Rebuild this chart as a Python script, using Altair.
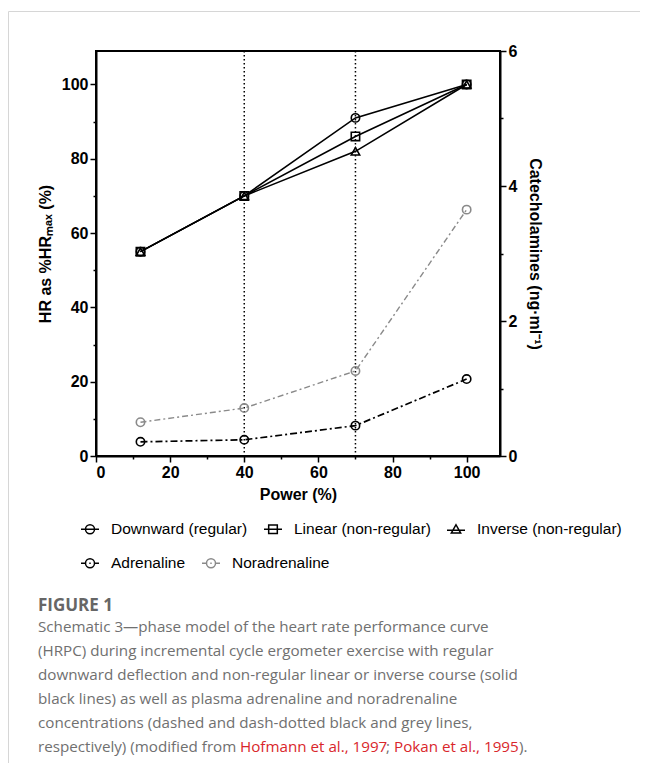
import altair as alt
import pandas as pd

# ---------------- data ----------------
power = [12, 40, 70, 100]
hr_downward = [55, 70, 91, 100]
hr_linear = [55, 70, 86, 100]
hr_inverse = [55, 70, 82, 100]
adrenaline = [0.21, 0.24, 0.45, 1.14]
noradrenaline = [0.50, 0.71, 1.26, 3.65]
phase_thresholds = [40, 70]

x_ticks = list(range(0, 101, 10))
hr_ticks = list(range(0, 101, 10))
cat_ticks = [0, 1, 2, 3, 4, 5, 6]

hr_names = ["Downward (regular)", "Linear (non-regular)", "Inverse (non-regular)"]
cat_names = ["Adrenaline", "Noradrenaline"]

caption_title = "FIGURE 1"
caption_lines = [
    "Schematic 3\u2014phase model of the heart rate performance curve",
    "(HRPC) during incremental cycle ergometer exercise with regular",
    "downward deflection and non-regular linear or inverse course (solid",
    "black lines) as well as plasma adrenaline and noradrenaline",
    "concentrations (dashed and dash-dotted black and grey lines,",
]
last_line_parts = ["respectively) (modified from ", "Hofmann et al., 1997", ";",
                   "Pokan et al., 1995", ")."]

# ---------------- styling ----------------
FONT = "Liberation Sans"
CAP_FONT = "Open Sans"
CAP_SIZE = 15.2
GREY_TXT = "#707070"
RED_TXT = "#d9262b"
W, H = 404, 405


def minor_size(step):
    return {"condition": {"test": f"datum.value % {step} != 0", "value": 3}, "value": 6}


common_axis = dict(grid=False, labelFont=FONT, labelFontSize=16, labelFontWeight="bold",
                   labelPadding=2, titleFont=FONT, titleFontSize=16, titleFontWeight="bold",
                   domainColor="black", domainWidth=2, tickColor="black", tickWidth=1.5,
                   labelColor="black", titleColor="black")

x_axis = alt.Axis(values=x_ticks, labelExpr="datum.value % 20 == 0 ? datum.label : ''",
                  tickSize=minor_size(20), title="Power (%)", titlePadding=6, **common_axis)
x_enc = alt.X("power:Q", scale=alt.Scale(domain=[0, 109], nice=False, zero=False), axis=x_axis)

left_axis = alt.Axis(values=hr_ticks, labelExpr="datum.value % 20 == 0 ? datum.label : ''",
                     tickSize=minor_size(20), title="HR as %HR\u2098\u2090\u2093 (%)",
                     titlePadding=8, **common_axis)
y_left = alt.Y("hr:Q", scale=alt.Scale(domain=[0, 109], nice=False), axis=left_axis)

right_axis = alt.Axis(orient="right", values=cat_ticks,
                      labelExpr="datum.value % 2 == 0 ? datum.label : ''",
                      tickSize=minor_size(2), title="Catecholamines (ng\u00b7ml\u207b\u00b9)",
                      titlePadding=10, **common_axis)
y_right = alt.Y("conc:Q", scale=alt.Scale(domain=[0, 6], nice=False), axis=right_axis)

# ---------------- left (HR) group ----------------
phase_rules = alt.Chart(pd.DataFrame({"power": phase_thresholds})).mark_rule(
    color="black", strokeWidth=1.5, strokeDash=[1.5, 2.5]).encode(x=x_enc)

hr_layers = []
for vals, shp in [(hr_inverse, "triangle-up"), (hr_downward, "circle"), (hr_linear, "square")]:
    df = pd.DataFrame({"power": power, "hr": vals})
    hr_layers.append(
        alt.Chart(df).mark_line(
            color="black", strokeWidth=1.6,
            point=alt.OverlayMarkDef(shape=shp, filled=False, size=70, color="black", strokeWidth=1.6),
        ).encode(x=x_enc, y=y_left)
    )

hr_paths = [
    "M-1,0H1M-0.5,0A0.5,0.5,0,1,1,0.5,0A0.5,0.5,0,1,1,-0.5,0",
    "M-1,0H1M-0.48,-0.48H0.48V0.48H-0.48Z",
    "M-1,0.1H1M0,-0.5L0.52,0.42H-0.52Z",
]
cat_path = "M-1,0H-0.5M0.5,0H1M-0.5,0A0.5,0.5,0,1,1,0.5,0A0.5,0.5,0,1,1,-0.5,0M-0.08,0H0.08"
cat_colors = ["black", "#8a8a8a"]

legend_common = dict(title=None, orient="none", direction="horizontal", padding=0,
                     columnPadding=13, symbolSize=324, symbolStrokeWidth=1.5, symbolOpacity=1,
                     symbolFillColor="transparent", labelFont=FONT, labelFontSize=15.5,
                     labelColor="black", labelOffset=11, labelLimit=400)

hr_legend_layer = alt.Chart(pd.DataFrame({"name": hr_names})).mark_point(
    filled=False, opacity=0).encode(
    x=alt.value(0), y=alt.value(0),
    shape=alt.Shape("name:N", scale=alt.Scale(domain=hr_names, range=hr_paths),
                    legend=alt.Legend(legendX=-16, legendY=468, symbolStrokeColor="black",
                                      **legend_common)),
)
cat_legend_layer = alt.Chart(pd.DataFrame({"name": cat_names})).mark_point(
    filled=False, opacity=0).encode(
    x=alt.value(0), y=alt.value(0),
    color=alt.Color("name:N", scale=alt.Scale(domain=cat_names, range=cat_colors),
                    legend=alt.Legend(legendX=-16, legendY=502, symbolType=cat_path,
                                      **legend_common)),
)

# caption
cap_title = alt.Chart(pd.DataFrame({"a": [0]})).mark_text(
    text=caption_title, font=CAP_FONT, fontSize=17, fontWeight="bold", color="#666666",
    align="left", baseline="alphabetic").encode(x=alt.value(-58), y=alt.value(560))
cap_body = alt.Chart(pd.DataFrame({"a": [0]})).mark_text(
    text=caption_lines, font=CAP_FONT, fontSize=CAP_SIZE, color=GREY_TXT, lineHeight=24,
    align="left", baseline="alphabetic").encode(x=alt.value(-58), y=alt.value(581))

part_x = [-58, 144, 290, 298, 423]
part_col = [GREY_TXT, RED_TXT, GREY_TXT, RED_TXT, GREY_TXT]
cap_last = [
    alt.Chart(pd.DataFrame({"a": [0]})).mark_text(
        text=t, font=CAP_FONT, fontSize=CAP_SIZE, color=c, align="left",
        baseline="alphabetic").encode(x=alt.value(px), y=alt.value(701))
    for t, c, px in zip(last_line_parts, part_col, part_x)
]

# page frame (light grey border of the figure card)
frame_top = alt.Chart(pd.DataFrame({"a": [0]})).mark_rule(color="#d6d6d6", strokeWidth=1).encode(
    x=alt.value(-87.5), x2=alt.value(560), y=alt.value(-39.5))
frame_left = alt.Chart(pd.DataFrame({"a": [0]})).mark_rule(color="#d6d6d6", strokeWidth=1).encode(
    x=alt.value(-87.5), y=alt.value(-39.5), y2=alt.value(760))

left_group = alt.layer(frame_top, frame_left, phase_rules, *hr_layers, hr_legend_layer,
                       cat_legend_layer, cap_title, cap_body, *cap_last)

# ---------------- right (catecholamine) group ----------------
cat_layers = []
for vals, col, dash, sw in [(noradrenaline, "#8a8a8a", [6, 3, 2, 3], 1.4),
                            (adrenaline, "black", [7, 3, 2, 3], 1.7)]:
    df = pd.DataFrame({"power": power, "conc": vals})
    cat_layers.append(
        alt.Chart(df).mark_line(
            color=col, strokeWidth=sw, strokeDash=dash,
            point=alt.OverlayMarkDef(shape="circle", filled=False, size=70, color=col, strokeWidth=1.6),
        ).encode(x=x_enc, y=y_right)
    )
right_group = alt.layer(*cat_layers)

chart = alt.layer(left_group, right_group).resolve_scale(y="independent").properties(
    width=W, height=H,
    padding={"left": 88, "top": 43, "right": 140, "bottom": 307},
    autosize=alt.AutoSizeParams(type="none"),
    background="white",
).configure_view(stroke="black", strokeWidth=2)

chart.save("out.html", embed_options={"renderer": "svg", "actions": False})
